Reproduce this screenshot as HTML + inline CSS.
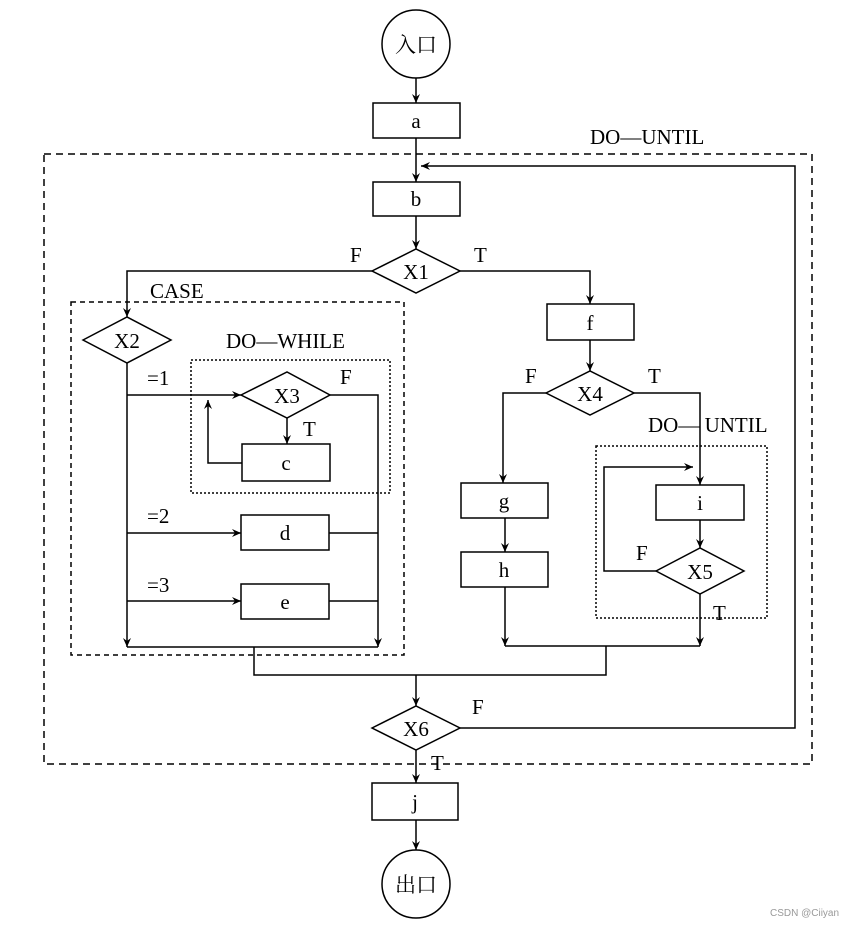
<!DOCTYPE html>
<html><head><meta charset="utf-8"><style>
body{margin:0;background:#fff}
svg text{font-family:"Liberation Serif","Noto Serif CJK SC",serif;font-size:21px;fill:#000}
</style></head><body>
<svg width="858" height="928" viewBox="0 0 858 928" xmlns="http://www.w3.org/2000/svg">
<defs><marker id="a" markerWidth="10" markerHeight="10" refX="9" refY="5" orient="auto" markerUnits="userSpaceOnUse"><path d="M0,1 L9,5 L0,9 L3,5 Z" fill="#000"/></marker></defs>
<rect width="858" height="928" fill="#fff"/>
<g fill="none" stroke="#000" stroke-width="1.5">
<!-- dashed frames -->
<rect x="44" y="154" width="768" height="610" stroke-dasharray="7,5"/>
<rect x="71" y="302" width="333" height="353" stroke-dasharray="5,4"/>
<rect x="191" y="360" width="199" height="133" stroke-dasharray="2,2"/>
<rect x="596" y="446" width="171" height="172" stroke-dasharray="2,2"/>
<!-- shapes -->
<circle cx="416" cy="44" r="34"/>
<circle cx="416" cy="884" r="34"/>
<rect x="373" y="103" width="87" height="35"/>
<rect x="373" y="182" width="87" height="34"/>
<rect x="547" y="304" width="87" height="36"/>
<rect x="242" y="444" width="88" height="37"/>
<rect x="241" y="515" width="88" height="35"/>
<rect x="241" y="584" width="88" height="35"/>
<rect x="461" y="483" width="87" height="35"/>
<rect x="461" y="552" width="87" height="35"/>
<rect x="656" y="485" width="88" height="35"/>
<rect x="372" y="783" width="86" height="37"/>
<path d="M372,271 L416,249 L460,271 L416,293 Z"/>
<path d="M83,340 L127,317 L171,340 L127,363 Z"/>
<path d="M241,395 L287,372 L330,395 L287,418 Z"/>
<path d="M546,393 L590,371 L634,393 L590,415 Z"/>
<path d="M656,571 L700,548 L744,571 L700,594 Z"/>
<path d="M372,728 L416,706 L460,728 L416,750 Z"/>
<!-- connectors -->
<path d="M416,78 V103" marker-end="url(#a)"/>
<path d="M416,138 V182" marker-end="url(#a)"/>
<path d="M416,216 V249" marker-end="url(#a)"/>
<path d="M460,728 H795 V166 H421" marker-end="url(#a)"/>
<path d="M372,271 H127 V317" marker-end="url(#a)"/>
<path d="M127,363 V647" marker-end="url(#a)"/>
<path d="M127,395 H241" marker-end="url(#a)"/>
<path d="M127,533 H241" marker-end="url(#a)"/>
<path d="M127,601 H241" marker-end="url(#a)"/>
<path d="M330,395 H378 V647" marker-end="url(#a)"/>
<path d="M329,533 H378 M329,601 H378"/>
<path d="M287,418 V444" marker-end="url(#a)"/>
<path d="M242,463 H208 V400" marker-end="url(#a)"/>
<path d="M127,647 H378 M254,647 V675 H606 V646 M505,646 H700"/>
<path d="M416,675 V706" marker-end="url(#a)"/>
<path d="M416,750 V783" marker-end="url(#a)"/>
<path d="M416,820 V850" marker-end="url(#a)"/>
<path d="M460,271 H590 V304" marker-end="url(#a)"/>
<path d="M590,340 V371" marker-end="url(#a)"/>
<path d="M546,393 H503 V483" marker-end="url(#a)"/>
<path d="M505,518 V552" marker-end="url(#a)"/>
<path d="M505,587 V646" marker-end="url(#a)"/>
<path d="M634,393 H700 V485" marker-end="url(#a)"/>
<path d="M700,520 V548" marker-end="url(#a)"/>
<path d="M656,571 H604 V467 H693" marker-end="url(#a)"/>
<path d="M700,594 V646" marker-end="url(#a)"/>
</g>
<g text-anchor="middle">
<text x="416" y="52" font-size="22">入口</text>
<text x="416" y="892" font-size="22">出口</text>
<text x="416" y="128">a</text>
<text x="416" y="206">b</text>
<text x="590" y="330">f</text>
<text x="286" y="470">c</text>
<text x="285" y="540">d</text>
<text x="285" y="609">e</text>
<text x="504" y="508">g</text>
<text x="504" y="577">h</text>
<text x="700" y="510">i</text>
<text x="415" y="809">j</text>
<text x="416" y="279">X1</text>
<text x="127" y="348">X2</text>
<text x="287" y="403">X3</text>
<text x="590" y="401">X4</text>
<text x="700" y="579">X5</text>
<text x="416" y="736">X6</text>
</g>
<text x="350" y="262">F</text>
<text x="474" y="262">T</text>
<text x="150" y="298">CASE</text>
<text x="226" y="348">DO—WHILE</text>
<text x="147" y="385">=1</text>
<text x="340" y="384">F</text>
<text x="303" y="436">T</text>
<text x="147" y="523">=2</text>
<text x="147" y="592">=3</text>
<text x="525" y="383">F</text>
<text x="648" y="383">T</text>
<text x="648" y="432">DO— UNTIL</text>
<text x="636" y="560">F</text>
<text x="713" y="620">T</text>
<text x="472" y="714">F</text>
<text x="431" y="770">T</text>
<text x="590" y="144">DO—UNTIL</text>
<text x="770" y="916" style="font-family:'Liberation Sans',sans-serif;font-size:10px;fill:#999">CSDN @Ciiyan</text>
</svg>
</body></html>
